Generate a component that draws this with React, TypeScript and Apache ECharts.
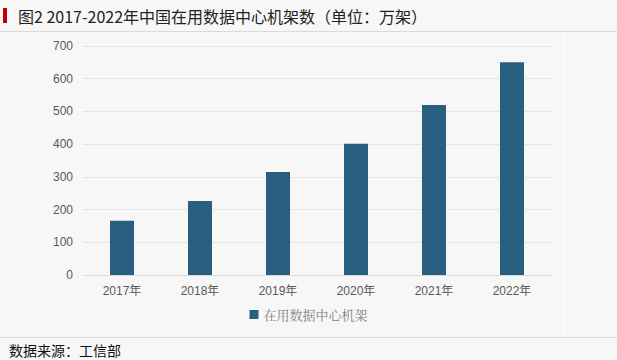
import React, { useEffect, useRef } from "react";
import * as echarts from "echarts";

const categories = ["2017年", "2018年", "2019年", "2020年", "2021年", "2022年"];
const racks = [166, 226, 315, 401, 520, 650];
const seriesName = "在用数据中心机架";
const titleText = "图2 2017-2022年中国在用数据中心机架数（单位：万架）";
const sourceText = "数据来源：工信部";

export default function App() {
  const ref = useRef<HTMLDivElement>(null);
  useEffect(() => {
    document.body.style.margin = "0";
    const chart = echarts.init(ref.current!, null, { renderer: "svg" });
    chart.setOption({
      animation: false,
      backgroundColor: "#f7f7f7",
      grid: { left: 83, right: 66, top: 46, bottom: 85 },
      xAxis: {
        type: "category",
        data: categories,
        axisLine: { lineStyle: { color: "#d9d9d9", width: 1 } },
        axisTick: { show: false },
        axisLabel: { color: "#595959", fontSize: 12, fontFamily: "Liberation Sans, Noto Sans CJK SC", margin: 10 },
      },
      yAxis: {
        type: "value",
        min: 0,
        max: 700,
        interval: 100,
        axisLine: { show: false },
        axisTick: { show: false },
        axisLabel: { color: "#595959", fontSize: 12, fontFamily: "Liberation Sans", margin: 10 },
        splitLine: { lineStyle: { color: "#e4e4e4", width: 1 } },
      },
      legend: {
        bottom: 34,
        left: "center",
        itemWidth: 9,
        itemHeight: 9,
        itemGap: 5,
        icon: "rect",
        textStyle: { color: "#7f7f7f", fontSize: 13, fontFamily: "Noto Serif CJK SC, Noto Sans CJK SC" },
        data: [seriesName],
      },
      series: [
        {
          name: seriesName,
          type: "bar",
          data: racks,
          barWidth: 24,
          itemStyle: { color: "#285e80" },
        },
      ],
      graphic: [
        { type: "rect", shape: { x: 3, y: 8, width: 4, height: 15 }, style: { fill: "#c00000" } },
        {
          type: "text",
          x: 18,
          y: 16,
          style: {
            text: titleText,
            fill: "#222",
            fontSize: 16,
            fontFamily: "Noto Sans CJK SC",
            verticalAlign: "middle",
          },
        },
        { type: "line", shape: { x1: 0, y1: 31.5, x2: 617, y2: 31.5 }, style: { stroke: "#d9d9d9", lineWidth: 1 } },
        { type: "line", shape: { x1: 563.5, y1: 32, x2: 563.5, y2: 333 }, style: { stroke: "#ffffff", lineWidth: 1 } },
        { type: "line", shape: { x1: 0, y1: 337.5, x2: 617, y2: 337.5 }, style: { stroke: "#d9d9d9", lineWidth: 1 } },
        {
          type: "text",
          x: 9,
          y: 350,
          style: {
            text: sourceText,
            fill: "#111",
            fontSize: 14,
            fontFamily: "Noto Sans CJK SC",
            verticalAlign: "middle",
          },
        },
      ],
    });
    return () => chart.dispose();
  }, []);
  return <div ref={ref} style={{ width: 617, height: 360 }} />;
}
